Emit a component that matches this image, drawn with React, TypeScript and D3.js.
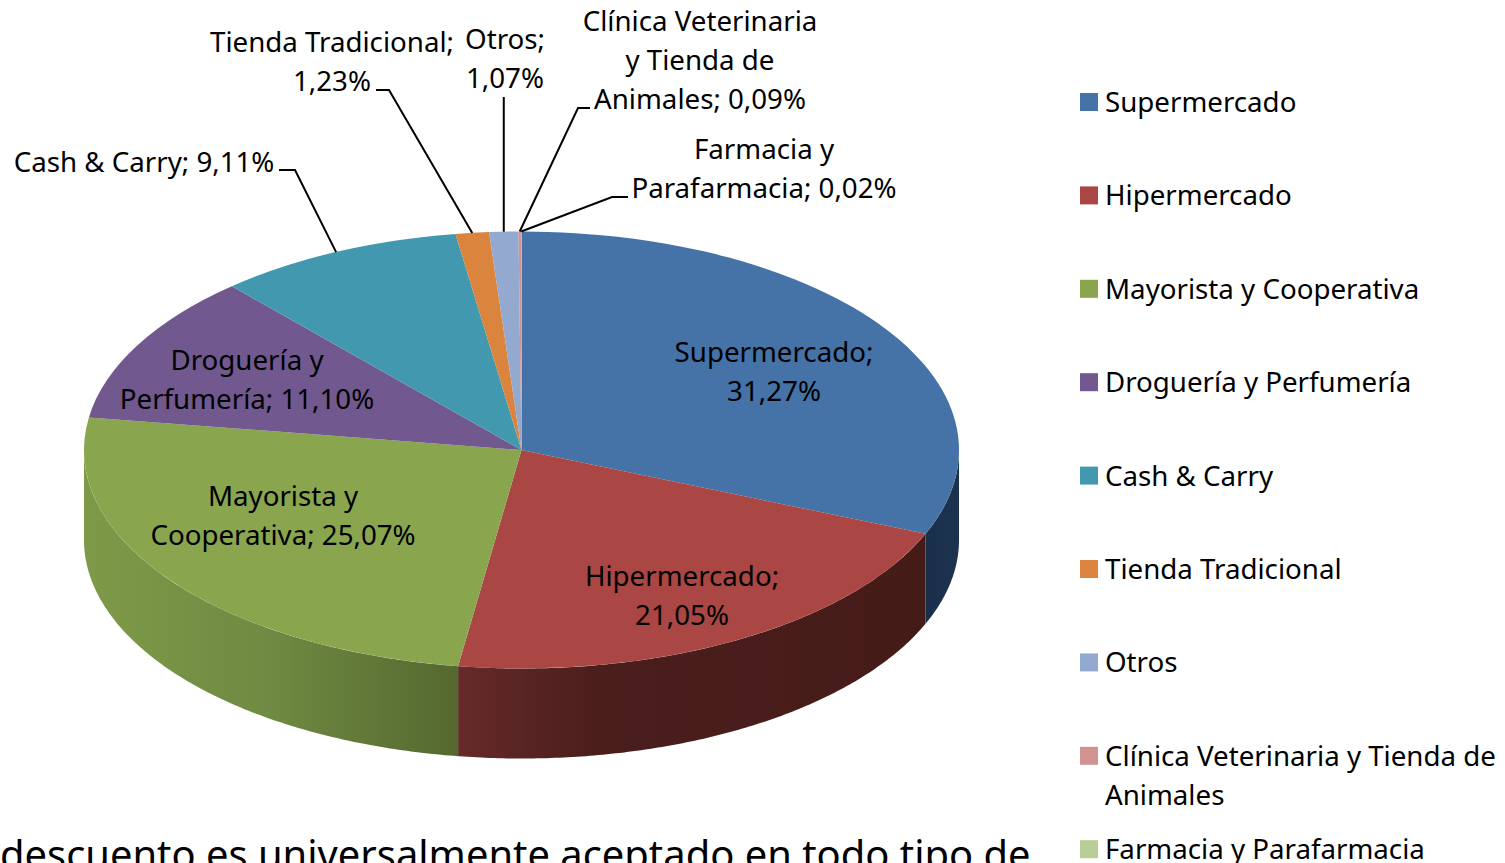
import React from 'react';
import * as d3 from 'd3';

const categories = ['Supermercado', 'Hipermercado', 'Mayorista y Cooperativa', 'Droguería y Perfumería', 'Cash & Carry', 'Tienda Tradicional', 'Otros', 'Clínica Veterinaria y Tienda de Animales', 'Farmacia y Parafarmacia'];
const shares = [31.27, 21.05, 25.07, 11.10, 9.11, 1.23, 1.07, 0.09, 0.02];
const colors = ['#4572A7', '#AA4643', '#89A54E', '#71588F', '#4198AF', '#DB843D', '#93A9CF', '#D19392', '#B9CD96'];
const labelLines = [
  ['Supermercado;', '31,27%'],
  ['Hipermercado;', '21,05%'],
  ['Mayorista y', 'Cooperativa; 25,07%'],
  ['Droguería y', 'Perfumería; 11,10%'],
  ['Cash & Carry; 9,11%'],
  ['Tienda Tradicional;', '1,23%'],
  ['Otros;', '1,07%'],
  ['Clínica Veterinaria', 'y Tienda de', 'Animales; 0,09%'],
  ['Farmacia y', 'Parafarmacia; 0,02%'],
];
const legendLines = [['Supermercado'], ['Hipermercado'], ['Mayorista y Cooperativa'], ['Droguería y Perfumería'], ['Cash & Carry'], ['Tienda Tradicional'], ['Otros'], ['Clínica Veterinaria y Tienda de', 'Animales'], ['Farmacia y Parafarmacia']];
const bottomText = 'descuento es universalmente aceptado en todo tipo de';

// layout
const W = 1505, H = 863;
const cx = 521.5, cy = 450, rx = 437.5, ry = 218.5, depth = 90;
const fontFamily = '"Noto Sans", sans-serif';
const fontSize = 27.7, lineH = 39;
// label x center + first baseline, per slice
const labelPos = [[774, 362], [682, 586], [283, 506], [247, 370], [144, 172], [332, 52], [505, 49], [700, 31], [764, 159]];
// elbow start (next to text) and knee of each leader, null = no leader
const leaderPos: (number[][] | null)[] = [null, null, null, null,
  [[279, 170], [295, 170]], [[376, 90], [389, 90]], null, [[590, 108], [578, 108]], [[628, 197], [612, 197]]];

const pie = d3.pie<number>().sort(null).value(d => d);
const arcs = pie(shares);
const arcGen = d3.arc<d3.PieArcDatum<number>>().innerRadius(0).outerRadius(rx);
const px = (a: number) => cx + rx * Math.sin(a);
const py = (a: number) => cy - ry * Math.cos(a);

// front wall of a slice, only the part facing the viewer (angles pi/2..3pi/2)
function wallPath(a0: number, a1: number) {
  const lo = Math.max(a0, Math.PI / 2), hi = Math.min(a1, 1.5 * Math.PI);
  if (hi <= lo) return null;
  const angles = d3.range(lo, hi, 0.01).concat([hi]);
  const area = d3.area<number>().x(px).y0(py).y1(a => py(a) + depth);
  return area(angles);
}

export default function App() {
  const walls = arcs.map((d, i) => ({ i, d: wallPath(d.startAngle, d.endAngle) })).filter(w => w.d);
  return (
    <svg width={W} height={H} style={{ position: 'absolute', left: 0, top: 0 }} fontFamily={fontFamily} fontSize={fontSize} fill="#000">
      <title>{categories.join(', ')}</title>
      <defs>
        {/* wall shading: a horizontal gradient across each visible slice side */}
        <linearGradient id="wall0" gradientUnits="userSpaceOnUse" x1={925} x2={959} y1={0} y2={0}>
          <stop offset="0" stopColor="#1A2F4A" /><stop offset="1" stopColor="#1C3350" />
        </linearGradient>
        <linearGradient id="wall1" gradientUnits="userSpaceOnUse" x1={458} x2={925} y1={0} y2={0}>
          <stop offset="0" stopColor="#662A2A" /><stop offset="0.3" stopColor="#4A1E1C" /><stop offset="1" stopColor="#451B18" />
        </linearGradient>
        <linearGradient id="wall2" gradientUnits="userSpaceOnUse" x1={84} x2={458} y1={0} y2={0}>
          <stop offset="0" stopColor="#7E9A48" /><stop offset="0.5" stopColor="#6F8A42" /><stop offset="1" stopColor="#55682F" />
        </linearGradient>
      </defs>

      {walls.map(w => (
        <path key={w.i} d={w.d!} fill={`url(#wall${w.i})`} />
      ))}

      <g transform={`translate(${cx},${cy}) scale(1,${ry / rx})`}>
        {arcs.map((d, i) => (
          <path key={i} d={arcGen(d)!} fill={colors[i]} />
        ))}
      </g>

      {arcs.map((d, i) => {
        const lp = leaderPos[i];
        if (!lp && i !== 6) return null;
        const mid = (d.startAngle + d.endAngle) / 2;
        const pts: [number, number][] = lp ? [[lp[0][0], lp[0][1]], [lp[1][0], lp[1][1]], [px(mid), py(mid)]] : [[px(mid), 97], [px(mid), py(mid)]];
        return <path key={i} d={d3.line()(pts)!} fill="none" stroke="#000" strokeWidth={2} />;
      })}

      {labelLines.map((lines, i) => (
        <text key={i} textAnchor="middle" x={labelPos[i][0]} y={labelPos[i][1]}>
          {lines.map((t, j) => (
            <tspan key={j} x={labelPos[i][0]} dy={j ? lineH : 0}>{t}</tspan>
          ))}
        </text>
      ))}

      {legendLines.map((lines, i) => {
        const y = 102 + i * 93.4;
        return (
          <g key={i}>
            <rect x={1080} y={y - 9} width={18} height={18} fill={colors[i]} />
            <text x={1105} y={y + 10}>
              {lines.map((t, j) => (
                <tspan key={j} x={1105} dy={j ? lineH : 0}>{t}</tspan>
              ))}
            </text>
          </g>
        );
      })}

      <text x={0} y={869} fontSize={39.9}>{bottomText}</text>
    </svg>
  );
}
